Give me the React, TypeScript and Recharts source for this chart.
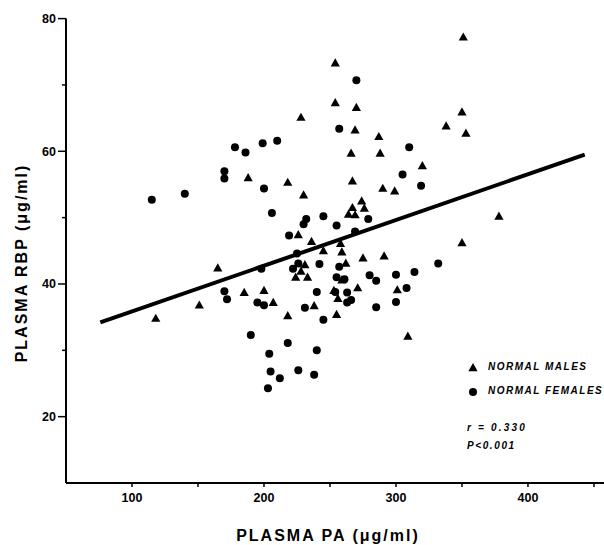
import React from 'react';
import { ScatterChart, Scatter, XAxis, YAxis, ReferenceLine, Legend, Label } from 'recharts';

const malesPA = [254, 254, 228, 188, 218, 230, 266, 267, 264, 351, 270, 269, 287, 350, 338, 353, 288, 320, 290, 299, 274, 276, 267, 378, 269, 226, 165, 185, 200, 207, 151, 118, 218, 224, 236, 258, 259, 245, 275, 291, 262, 231, 233, 228, 259, 253, 256, 271, 301, 238, 255, 309, 350];
const malesRBP = [73.3, 67.3, 65.1, 56.0, 55.3, 53.4, 59.7, 55.5, 50.5, 77.2, 66.6, 63.2, 62.2, 65.9, 63.8, 62.7, 59.7, 57.8, 54.4, 54.0, 52.5, 51.4, 51.5, 50.2, 50.4, 47.4, 42.4, 38.7, 39.0, 37.2, 36.8, 34.8, 35.2, 41.0, 46.4, 46.1, 44.8, 45.0, 43.9, 44.2, 43.1, 42.9, 41.0, 41.9, 40.6, 39.0, 37.8, 39.4, 39.1, 36.7, 35.4, 32.1, 46.2];

const femalesPA = [257, 178, 186, 199, 210, 170, 170, 200, 140, 115, 206, 232, 245, 270, 310, 305, 319, 279, 219, 225, 198, 222, 170, 172, 195, 200, 190, 218, 204, 205, 212, 203, 226, 255, 230, 269, 242, 257, 226, 255, 261, 280, 285, 300, 314, 332, 308, 240, 254, 263, 266, 263, 300, 285, 231, 245, 240, 238];
const femalesRBP = [63.4, 60.6, 59.8, 61.2, 61.6, 57.0, 55.9, 54.4, 53.6, 52.7, 50.7, 49.8, 50.2, 70.7, 60.6, 56.5, 54.8, 49.8, 47.3, 44.6, 42.3, 42.3, 38.9, 37.7, 37.2, 36.8, 32.3, 31.1, 29.5, 26.8, 25.8, 24.3, 27.0, 48.8, 49.0, 47.9, 43.0, 42.6, 43.1, 41.0, 40.7, 41.3, 40.5, 41.4, 41.8, 43.1, 39.4, 38.8, 38.8, 38.7, 37.6, 37.2, 37.3, 36.5, 36.4, 34.6, 30.0, 26.3];

const xTicks = [100, 150, 200, 250, 300, 350, 400, 450];
const xLabeled = [100, 200, 300, 400];
const yTicks = [20, 30, 40, 50, 60, 70, 80];
const yLabeled = [20, 40, 60, 80];

const fitX = [76, 443];
const fitY = [34.2, 59.5];

const males = malesPA.map((x, i) => ({ x, y: malesRBP[i] }));
const females = femalesPA.map((x, i) => ({ x, y: femalesRBP[i] }));
const fitSegment = fitX.map((x, i) => ({ x, y: fitY[i] }));

const FONT = '"Liberation Sans", Arial, sans-serif';

const Triangle = (props: any) => {
  const { cx, cy } = props;
  if (cx == null || cy == null) return null;
  return <polygon points={`${cx},${cy - 4.8} ${cx - 4.6},${cy + 3.4} ${cx + 4.6},${cy + 3.4}`} fill="#000" />;
};

const Dot = (props: any) => {
  const { cx, cy } = props;
  if (cx == null || cy == null) return null;
  return <circle cx={cx} cy={cy} r={4} fill="#000" />;
};

const YTick = (props: any) => {
  const { x, y, payload } = props;
  const v = payload.value;
  const major = yLabeled.includes(v);
  const axisX = x + 10;
  return (
    <g>
      <line x1={axisX - (major ? 8 : 4)} y1={y} x2={axisX} y2={y} stroke="#000" strokeWidth={1.5} />
      {major && (
        <text x={x} y={y} dy="0.36em" textAnchor="end" fontFamily={FONT} fontWeight="bold" fontSize={12.5} fill="#000">
          {v}
        </text>
      )}
    </g>
  );
};

const renderLegend = () => {
  const textStyle: React.CSSProperties = {
    fontFamily: FONT,
    fontStyle: 'italic',
    fontWeight: 'bold',
    fontSize: 10,
    letterSpacing: 1.5,
    color: '#000',
    position: 'absolute',
    whiteSpace: 'nowrap',
    lineHeight: '12px',
  };
  return (
    <div style={{ position: 'relative', width: 142, height: 100 }}>
      <svg style={{ position: 'absolute', left: 5, top: 7 }} width={12} height={12}>
        <polygon points="6,1 1.4,9.2 10.6,9.2" fill="#000" />
      </svg>
      <div style={{ ...textStyle, left: 26, top: 6 }}>NORMAL MALES</div>
      <svg style={{ position: 'absolute', left: 5, top: 31 }} width={12} height={12}>
        <circle cx={6} cy={6} r={4} fill="#000" />
      </svg>
      <div style={{ ...textStyle, left: 26, top: 30 }}>NORMAL FEMALES</div>
      <div style={{ ...textStyle, left: 5, top: 67, letterSpacing: 2.2 }}>r = 0.330</div>
      <div style={{ ...textStyle, left: 5, top: 85, letterSpacing: 1.6 }}>P&lt;0.001</div>
    </div>
  );
};

export default function App() {
  return (
    <div style={{ position: 'absolute', left: 0, top: 0, background: '#fff' }}>
      <ScatterChart width={604} height={545} margin={{ top: 18.6, right: 0, bottom: 32, left: 0 }}>
        <XAxis
          type="number"
          dataKey="x"
          domain={[50, 457.6]}
          ticks={xTicks}
          allowDataOverflow
          height={30}
          tickSize={4}
          tickMargin={6}
          axisLine={{ stroke: '#000', strokeWidth: 2 }}
          tickLine={{ stroke: '#000', strokeWidth: 1.5 }}
          tick={{ fill: '#000', fontFamily: FONT, fontWeight: 'bold', fontSize: 12.5 }}
          tickFormatter={(v: number) => (xLabeled.includes(v) ? String(v) : '')}
        >
          <Label
            content={() => (
              <text x={328} y={535} textAnchor="middle" dominantBaseline="central" fontFamily={FONT} fontWeight="bold" fontSize={16} letterSpacing={2} fill="#000">
                PLASMA PA (μg/ml)
              </text>
            )}
          />
        </XAxis>
        <YAxis
          type="number"
          dataKey="y"
          domain={[10, 80]}
          ticks={yTicks}
          allowDataOverflow
          width={66}
          tickSize={8}
          tickMargin={2}
          axisLine={{ stroke: '#000', strokeWidth: 2 }}
          tickLine={false}
          tick={<YTick />}
        >
          <Label
            content={() => (
              <text x={21} y={263} transform="rotate(-90 21 263)" textAnchor="middle" dominantBaseline="central" fontFamily={FONT} fontWeight="bold" fontSize={16} letterSpacing={2} fill="#000">
                PLASMA RBP (μg/ml)
              </text>
            )}
          />
        </YAxis>
        <ReferenceLine segment={fitSegment} stroke="#000" strokeWidth={4} />
        <Scatter name="NORMAL MALES" data={males} shape={<Triangle />} isAnimationActive={false} />
        <Scatter name="NORMAL FEMALES" data={females} shape={<Dot />} isAnimationActive={false} />
        <Legend
          layout="vertical"
          align="center"
          verticalAlign="middle"
          content={renderLegend}
          wrapperStyle={{ left: 462, top: 355, width: 142, height: 100, bottom: 'auto' }}
        />
      </ScatterChart>
    </div>
  );
}
